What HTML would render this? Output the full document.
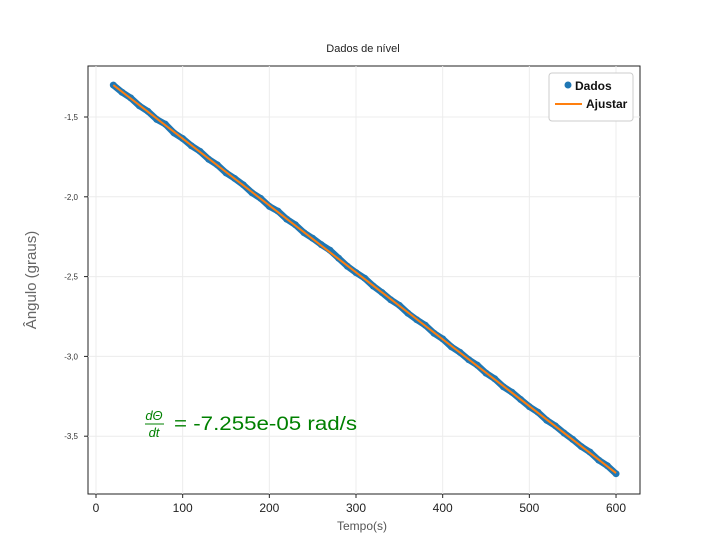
<!DOCTYPE html>
<html><head><meta charset="utf-8"><style>
body{margin:0;background:#fff;}
svg{display:block;font-family:"Liberation Sans","DejaVu Sans",sans-serif;}
</style></head><body>
<svg id="c" width="711" height="555">
<text x="363" y="52" font-size="11" text-anchor="middle" fill="#222">Dados de nível</text>
<rect x="88" y="66" width="552" height="428" fill="none" stroke="#222" stroke-width="1"/>
<g id="grid"></g><g id="ticks"></g><g id="series"></g>
<text x="362" y="530" font-size="12" text-anchor="middle" fill="#555">Tempo(s)</text>
<text transform="translate(36,280) rotate(-90)" font-size="15" text-anchor="middle" fill="#666">Ângulo (graus)</text>
<g fill="#008000">
<text x="154" y="420" font-size="13" font-style="italic" text-anchor="middle">dΘ</text>
<line x1="145" y1="424" x2="164" y2="424" stroke="#008000" stroke-width="1"/>
<text x="154" y="437" font-size="13" font-style="italic" text-anchor="middle">dt</text>
<text x="174" y="430" font-size="19" textLength="183" lengthAdjust="spacingAndGlyphs">= -7.255e-05 rad/s</text>
</g>
<g>
<rect x="549" y="73" width="84" height="48" rx="3" fill="#fff" stroke="#ccc"/>
<circle cx="568" cy="85" r="3.5" fill="#1f77b4"/>
<text x="575" y="90" font-size="12" font-weight="bold" fill="#111">Dados</text>
<line x1="555" y1="104" x2="582" y2="104" stroke="#ff7f0e" stroke-width="2"/>
<text x="586" y="108" font-size="12" font-weight="bold" fill="#111">Ajustar</text>
</g>
</svg>
<script>
const times=[20,30,40,50,60,70,80,90,100,110,120,130,140,150,160,170,180,190,200,210,220,230,240,250,260,270,280,290,300,310,320,330,340,350,360,370,380,390,400,410,420,430,440,450,460,470,480,490,500,510,520,530,540,550,560,570,580,590,600];
const angles=[-1.30,-1.345,-1.38,-1.43,-1.465,-1.515,-1.545,-1.60,-1.635,-1.68,-1.715,-1.765,-1.80,-1.85,-1.885,-1.925,-1.975,-2.01,-2.06,-2.09,-2.14,-2.175,-2.225,-2.26,-2.30,-2.335,-2.385,-2.435,-2.475,-2.51,-2.56,-2.60,-2.645,-2.68,-2.73,-2.77,-2.805,-2.855,-2.89,-2.94,-2.975,-3.02,-3.055,-3.105,-3.14,-3.19,-3.225,-3.27,-3.315,-3.35,-3.40,-3.435,-3.48,-3.52,-3.565,-3.60,-3.65,-3.685,-3.735];
const fitT=[20,600];
const fitA=[-1.300,-3.731];
const xTicks=[0,100,200,300,400,500,600];
const yTicks=[-1.5,-2.0,-2.5,-3.0,-3.5];
const yTickLabels=["-1,5","-2,0","-2,5","-3,0","-3,5"];
const NS="http://www.w3.org/2000/svg";
const X=t=>96+t*0.8667;
const Y=a=>117+(-1.5-a)*159.6;
function mk(tag,at,parent){const e=document.createElementNS(NS,tag);for(const k in at)e.setAttribute(k,at[k]);parent.appendChild(e);return e;}
const grid=document.getElementById('grid'),ticks=document.getElementById('ticks'),ser=document.getElementById('series');
xTicks.forEach(v=>{
 const g=mk('line',{x1:X(v),x2:X(v),y1:66,y2:494,stroke:'#ececec'},grid);
 
 
 const tk=mk('line',{x1:X(v),x2:X(v),y1:494,y2:498,stroke:'#222'},ticks);
 
 
 const t=mk('text',{x:X(v),y:512,'font-size':12,'text-anchor':'middle',fill:'#222'},ticks);t.textContent=v;
 
 
});
yTicks.forEach((v,i)=>{
 const g=mk('line',{x1:88,x2:640,y1:Y(v),y2:Y(v),stroke:'#ececec'},grid);
 
 
 const tk=mk('line',{x1:84,x2:88,y1:Y(v),y2:Y(v),stroke:'#222'},ticks);
 
 
 const t=mk('text',{x:78,y:Y(v)+3,'font-size':8,'text-anchor':'end',fill:'#333'},ticks);t.textContent=yTickLabels[i];
 
 
});
const pts=times.map((t,i)=>X(t)+','+Y(angles[i])).join(' ');
const band=mk('polyline',{points:pts,fill:'none',stroke:'#1f77b4','stroke-width':6.5,'stroke-linejoin':'round','stroke-linecap':'round'},ser);


times.forEach((t,i)=>{
 const c=mk('circle',{cx:X(t),cy:Y(angles[i]),r:3.5,fill:'#1f77b4'},ser);
 
 
});
const fit=mk('line',{x1:X(fitT[0]),y1:Y(fitA[0]),x2:X(fitT[1]),y2:Y(fitA[1]),stroke:'#ff7f0e','stroke-width':2},ser);


</script>
</body></html>
